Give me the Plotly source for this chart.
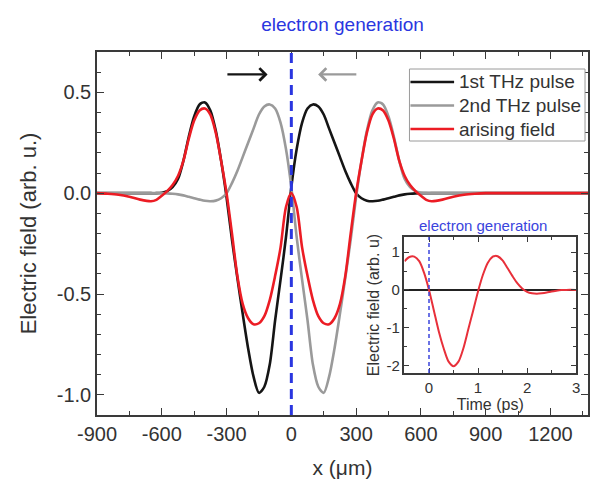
import plotly.graph_objects as go

# ---------------- data ----------------
x_um = [-900, -850, -800, -750, -700, -650, -625, -600, -575, -550, -525, -500,
        -475, -450, -425, -400, -375, -350, -325, -300, -275, -250, -225, -200,
        -175, -150, -125, -100, -75, -50, -25, 0, 25, 50, 75, 100, 125, 150,
        175, 200, 225, 250, 275, 300, 325, 350, 375, 400, 425, 450, 475, 500,
        525, 550, 575, 600, 625, 650, 700, 750, 800, 850, 900, 1000, 1100,
        1200, 1300, 1400]

first_pulse = [0, 0, 0, 0, 0, 0, 0, 0.002, 0.01, 0.03, 0.07, 0.16,
               0.28, 0.38, 0.44, 0.45, 0.41, 0.31, 0.16, -0.02, -0.23, -0.42, -0.60, -0.77,
               -0.91, -0.99, -0.96, -0.85, -0.63, -0.43, -0.22, 0.03, 0.22, 0.35, 0.42, 0.44, 0.43, 0.39,
               0.32, 0.25, 0.18, 0.11, 0.05, 0.0, -0.025, -0.037, -0.04, -0.038, -0.032, -0.025, -0.018, -0.011,
               -0.006, -0.003, -0.001, 0, 0, 0, 0, 0, 0, 0, 0, 0, 0,
               0, 0, 0]

second_pulse = [0, 0, 0, 0, 0, 0, 0, 0, -0.001, -0.003, -0.006, -0.011,
                -0.018, -0.025, -0.032, -0.038, -0.04, -0.037, -0.025, 0.0, 0.05, 0.11, 0.18, 0.25,
                0.32, 0.39, 0.43, 0.44, 0.42, 0.35, 0.22, 0.03, -0.22, -0.43, -0.63, -0.85, -0.96, -0.99,
                -0.91, -0.77, -0.60, -0.42, -0.23, -0.02, 0.16, 0.31, 0.41, 0.45, 0.44, 0.38, 0.28, 0.16,
                0.07, 0.03, 0.01, 0.002, 0, 0, 0, 0, 0, 0, 0, 0, 0,
                0, 0, 0]

arising = [0, -0.003, -0.008, -0.018, -0.032, -0.04, -0.033, -0.013, 0.01, 0.04, 0.085, 0.16,
           0.27, 0.36, 0.41, 0.42, 0.39, 0.30, 0.16, 0.0, -0.20, -0.41, -0.55, -0.62,
           -0.65, -0.645, -0.61, -0.53, -0.41, -0.27, -0.07, 0.0, -0.07, -0.27, -0.41, -0.53, -0.61, -0.645,
           -0.65, -0.62, -0.55, -0.41, -0.20, 0.0, 0.16, 0.30, 0.39, 0.42, 0.41, 0.36, 0.27, 0.16,
           0.085, 0.04, 0.01, -0.013, -0.033, -0.04, -0.032, -0.018, -0.008, -0.003, 0, 0, 0,
           0, 0, 0]

# inset: arising field vs time
t_ps = [-0.5, -0.4, -0.3, -0.2, -0.1, 0.0, 0.1, 0.2, 0.3, 0.4, 0.5, 0.6, 0.7, 0.8,
        0.9, 1.0, 1.1, 1.2, 1.3, 1.35, 1.4, 1.5, 1.6, 1.7, 1.8, 1.9, 2.0, 2.1, 2.2,
        2.3, 2.4, 2.5, 2.6, 2.7, 2.8, 3.0]
e_inset = [0.76, 0.87, 0.88, 0.76, 0.45, 0.0, -0.55, -1.1, -1.55, -1.9, -2.02, -1.9, -1.55, -1.05,
           -0.55, -0.04, 0.4, 0.72, 0.88, 0.9, 0.89, 0.78, 0.58, 0.37, 0.18, 0.04, -0.05, -0.09, -0.1,
           -0.09, -0.07, -0.04, -0.02, -0.005, 0.0, 0.0]

x_tickvals = [-900, -600, -300, 0, 300, 600, 900, 1200]
x_ticktext = ["-900", "-600", "-300", "0", "300", "600", "900", "1200"]
y_tickvals = [-1.0, -0.5, 0.0, 0.5]
y_ticktext = ["-1.0", "-0.5", "0.0", "0.5"]
t_tickvals = [0, 1, 2, 3]
t_ticktext = ["0", "1", "2", "3"]
e_tickvals = [-2, -1, 0, 1]
e_ticktext = ["-2", "-1", "0", "1"]

series_names = ["1st THz pulse", "2nd THz pulse", "arising field"]

# ---------------- styling ----------------
FONT = "Liberation Sans, Arial, Helvetica, sans-serif"
BLACK = "#151515"
GRAY = "#9a9a9a"
RED = "#ec1c24"
BLUE = "#2a36e0"
AX = "#3a3a3a"
TXT = "#333333"
colors = [BLACK, GRAY, RED]

# plot-area geometry in pixels (for legend/inset placement in paper coords)
L, R, T, B = 97, 592, 52, 415
def px(xp):
    return (xp - L) / (R - L)
def py(yp):
    return (B - yp) / (B - T)

fig = go.Figure()
for vals, name, col in zip([first_pulse, second_pulse, arising], series_names, colors):
    fig.add_trace(go.Scatter(x=x_um, y=vals, name=name, mode="lines", showlegend=False,
                             line=dict(color=col, width=2.6, shape="spline", smoothing=0.8),
                             xaxis="x", yaxis="y"))

fig.add_trace(go.Scatter(x=t_ps, y=e_inset, mode="lines", showlegend=False,
                         line=dict(color="#e8303a", width=2, shape="spline", smoothing=0.8),
                         xaxis="x2", yaxis="y2"))

common_axis = dict(showline=True, linecolor=AX, linewidth=1.5, mirror="ticks",
                   ticks="inside", tickcolor=AX, tickwidth=1.3, showgrid=False, zeroline=False)

fig.update_layout(
    width=592, height=480,
    margin=dict(l=L, r=592 - R, t=T, b=480 - B),
    paper_bgcolor="white", plot_bgcolor="white",
    font=dict(family=FONT, color=TXT),
    title=dict(text="electron generation", font=dict(size=19, color=BLUE, family=FONT),
               x=0.5, xref="paper", xanchor="center", y=1 - 24 / 480, yanchor="middle"),
    xaxis=dict(**common_axis, range=[-900, 1374], tickmode="array",
               tickvals=x_tickvals, ticktext=x_ticktext, ticklen=7,
               tickfont=dict(size=20, color=TXT),
               minor=dict(ticks="inside", ticklen=4, tickcolor=AX, tickmode="linear", tick0=-900, dtick=150),
               title=dict(text="x (μm)", font=dict(size=21, color=TXT), standoff=17)),
    yaxis=dict(**common_axis, range=[-1.1, 0.7], tickmode="array",
               tickvals=y_tickvals, ticktext=y_ticktext, ticklen=7,
               tickfont=dict(size=20, color=TXT),
               minor=dict(ticks="inside", ticklen=4, tickcolor=AX, tickmode="linear", tick0=0, dtick=0.1),
               title=dict(text="Electric field (arb. u.)", font=dict(size=22, color=TXT), standoff=14)),
    xaxis2=dict(**common_axis, domain=[px(407), px(580)], anchor="y2", range=[-0.5, 3],
                tickmode="array", tickvals=t_tickvals, ticktext=t_ticktext, ticklen=5,
                tickfont=dict(size=15, color=TXT),
                minor=dict(ticks="inside", ticklen=3, tickcolor=AX, tickmode="linear", tick0=0, dtick=0.5),
                title=dict(text="Time (ps)", font=dict(size=16, color=TXT), standoff=0)),
    yaxis2=dict(showline=True, linecolor=AX, linewidth=1.5, mirror="ticks",
                ticks="inside", tickcolor=AX, tickwidth=1.3, showgrid=False,
                zeroline=True, zerolinecolor="#222222", zerolinewidth=1.5,
                domain=[py(373), py(237)], anchor="x2", range=[-2.2, 1.4],
                tickmode="array", tickvals=e_tickvals, ticktext=e_ticktext, ticklen=5,
                tickfont=dict(size=15, color=TXT),
                minor=dict(ticks="inside", ticklen=3, tickcolor=AX, tickmode="linear", tick0=0, dtick=0.5),
                title=dict(text="Electric field (arb. u)", font=dict(size=16, color=TXT), standoff=3)),
    showlegend=False,
)

# legend box (drawn like the original: long line samples, tight rows)
fig.add_shape(type="rect", xref="paper", yref="paper", x0=px(412), x1=px(589), y0=py(141), y1=py(69),
              line=dict(color="#9a9a9a", width=1), fillcolor="white", layer="above")
for i, (name, col) in enumerate(zip(series_names, colors)):
    yrow = 82 + i * 23.5
    fig.add_shape(type="line", xref="paper", yref="paper", x0=px(413), x1=px(457),
                  y0=py(yrow), y1=py(yrow), line=dict(color=col, width=2.6), layer="above")
    fig.add_annotation(x=px(460), y=py(yrow), xref="paper", yref="paper", text=name,
                       showarrow=False, xanchor="left", yanchor="middle",
                       font=dict(size=19, color=TXT, family=FONT))

# vertical "electron generation" markers
fig.add_shape(type="line", xref="x", yref="y domain", x0=0, x1=0, y0=0, y1=1,
              line=dict(color=BLUE, width=3, dash="10px,6px"))
fig.add_shape(type="line", xref="x2", yref="y2 domain", x0=0, x1=0, y0=0, y1=1,
              line=dict(color="#3a44dd", width=1.5, dash="4px,3px"))

# propagation arrows
fig.add_annotation(x=-110, y=0.589, ax=-303, ay=0.589, xref="x", yref="y", axref="x", ayref="y",
                   text="", showarrow=True, arrowhead=4, arrowsize=1.1, arrowwidth=2.2, arrowcolor=BLACK)
fig.add_annotation(x=124, y=0.589, ax=308, ay=0.589, xref="x", yref="y", axref="x", ayref="y",
                   text="", showarrow=True, arrowhead=4, arrowsize=1.1, arrowwidth=2.2, arrowcolor=GRAY)

# inset title
fig.add_annotation(x=px(486), y=py(226), xref="paper", yref="paper",
                   text="electron generation", showarrow=False,
                   font=dict(size=15, color="#3a44dd", family=FONT), xanchor="center", yanchor="middle")

fig.write_html("out.html")
